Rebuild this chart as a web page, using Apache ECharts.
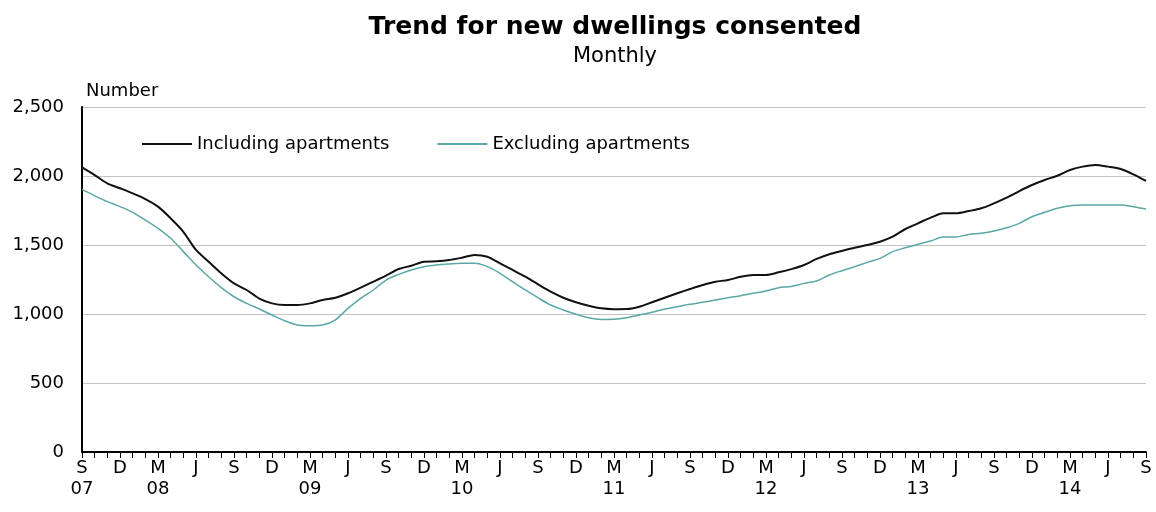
<!DOCTYPE html>
<html>
<head>
<meta charset="utf-8">
<script src="https://cdn.jsdelivr.net/npm/echarts@6/dist/echarts.min.js"></script>
<style>
  html, body { margin: 0; padding: 0; background: #fff; }
  #chart { width: 1156px; height: 512px; }
</style>
</head>
<body>
<div id="chart"></div>
<script>
// monthly, Sep 2007 .. Sep 2014
const months = [
  '2007-09', '2007-10', '2007-11', '2007-12',
  '2008-01', '2008-02', '2008-03', '2008-04', '2008-05', '2008-06', '2008-07', '2008-08', '2008-09', '2008-10', '2008-11', '2008-12',
  '2009-01', '2009-02', '2009-03', '2009-04', '2009-05', '2009-06', '2009-07', '2009-08', '2009-09', '2009-10', '2009-11', '2009-12',
  '2010-01', '2010-02', '2010-03', '2010-04', '2010-05', '2010-06', '2010-07', '2010-08', '2010-09', '2010-10', '2010-11', '2010-12',
  '2011-01', '2011-02', '2011-03', '2011-04', '2011-05', '2011-06', '2011-07', '2011-08', '2011-09', '2011-10', '2011-11', '2011-12',
  '2012-01', '2012-02', '2012-03', '2012-04', '2012-05', '2012-06', '2012-07', '2012-08', '2012-09', '2012-10', '2012-11', '2012-12',
  '2013-01', '2013-02', '2013-03', '2013-04', '2013-05', '2013-06', '2013-07', '2013-08', '2013-09', '2013-10', '2013-11', '2013-12',
  '2014-01', '2014-02', '2014-03', '2014-04', '2014-05', '2014-06', '2014-07', '2014-08', '2014-09'
]

const monthLetters = ['J', 'F', 'M', 'A', 'M', 'J', 'J', 'A', 'S', 'O', 'N', 'D']

const includingApartments = [
  2062, 2007, 1947, 1911, 1874, 1833, 1778, 1693, 1596, 1464,
  1379, 1295, 1222, 1174, 1112, 1077, 1065, 1065, 1077, 1101,
  1118, 1150, 1191, 1234, 1278, 1326, 1350, 1379, 1382, 1391,
  1408, 1428, 1415, 1367, 1319, 1270, 1215, 1162, 1118, 1085,
  1060, 1041, 1035, 1036, 1053, 1085, 1118, 1150, 1181, 1210,
  1234, 1246, 1270, 1283, 1283, 1302, 1325, 1355, 1399, 1433,
  1457, 1480, 1500, 1524, 1560, 1616, 1657, 1698, 1730, 1730,
  1746, 1766, 1802, 1843, 1891, 1935, 1971, 2002, 2043, 2068,
  2080, 2068, 2051, 2012, 1964
]

const excludingApartments = [
  1903, 1857, 1814, 1778, 1737, 1681, 1621, 1549, 1452, 1355,
  1270, 1191, 1125, 1077, 1036, 993, 951, 920, 915, 920,
  957, 1041, 1114, 1174, 1246, 1287, 1319, 1343, 1355, 1362,
  1367, 1367, 1343, 1295, 1234, 1174, 1118, 1065, 1029, 998,
  973, 961, 962, 973, 993, 1012, 1036, 1053, 1070, 1085,
  1101, 1118, 1133, 1150, 1167, 1191, 1200, 1222, 1239, 1283,
  1314, 1343, 1374, 1403, 1452, 1480, 1505, 1529, 1558, 1558,
  1576, 1585, 1601, 1625, 1657, 1705, 1737, 1766, 1785, 1790,
  1790, 1790, 1790, 1778, 1761
]

const FONT = 'DejaVu Sans'

const chart = echarts.init(document.getElementById('chart'), null, { renderer: 'canvas' })

function monthLabel (value, index) {
  const [year, month] = value.split('-')
  const m = Number(month)
  let label = monthLetters[m - 1]
  if (index === 0 || m === 3) {
    label += '\n' + year.slice(2)
  }
  return label
}

const option = {
  animation: false,
  backgroundColor: '#ffffff',
  textStyle: { fontFamily: FONT },
  graphic: [
    {
      type: 'text',
      x: 615,
      y: 27,
      style: {
        text: 'Trend for new dwellings consented',
        font: 'bold 25px "DejaVu Sans"',
        fill: '#000',
        align: 'center',
        verticalAlign: 'middle'
      }
    },
    {
      type: 'text',
      x: 615,
      y: 57,
      style: {
        text: 'Monthly',
        font: '21px "DejaVu Sans"',
        fill: '#000',
        align: 'center',
        verticalAlign: 'middle'
      }
    },
    {
      type: 'text',
      x: 86,
      y: 91,
      style: {
        text: 'Number',
        font: '18px "DejaVu Sans"',
        fill: '#000',
        align: 'left',
        verticalAlign: 'middle'
      }
    }
  ],
  legend: {
    left: 137,
    top: 130,
    icon: 'rect',
    itemWidth: 50,
    itemHeight: 2,
    itemGap: 48,
    textStyle: { fontFamily: FONT, fontSize: 18, color: '#000' },
    data: ['Including apartments', 'Excluding apartments']
  },
  grid: {
    left: 82,
    right: 10,
    top: 107,
    bottom: 60,
    containLabel: false
  },
  xAxis: {
    type: 'category',
    data: months,
    boundaryGap: false,
    axisLine: { lineStyle: { color: '#000', width: 2 } },
    axisTick: { show: true, interval: 0, length: 6, lineStyle: { color: '#000', width: 1 } },
    axisLabel: {
      interval: (index) => index % 3 === 0,
      formatter: monthLabel,
      fontFamily: FONT,
      fontSize: 18,
      lineHeight: 21,
      color: '#000',
      margin: 6
    },
    splitLine: { show: false }
  },
  yAxis: {
    type: 'value',
    min: 0,
    max: 2500,
    interval: 500,
    axisLine: { show: true, lineStyle: { color: '#000', width: 2 } },
    axisTick: { show: false },
    axisLabel: {
      formatter: (v) => v.toLocaleString('en-US'),
      fontFamily: FONT,
      fontSize: 18,
      color: '#000',
      margin: 18
    },
    splitLine: { lineStyle: { color: '#c4c4c4', width: 1 } }
  },
  series: [
    {
      name: 'Including apartments',
      type: 'line',
      data: includingApartments,
      symbol: 'none',
      smooth: 0.3,
      lineStyle: { color: '#111111', width: 2 },
      itemStyle: { color: '#111111' }
    },
    {
      name: 'Excluding apartments',
      type: 'line',
      data: excludingApartments,
      symbol: 'none',
      smooth: 0.3,
      lineStyle: { color: '#5ba6a6', width: 1.5 },
      itemStyle: { color: '#5ba6a6' }
    }
  ]
}

chart.setOption(option)
</script>
</body>
</html>
